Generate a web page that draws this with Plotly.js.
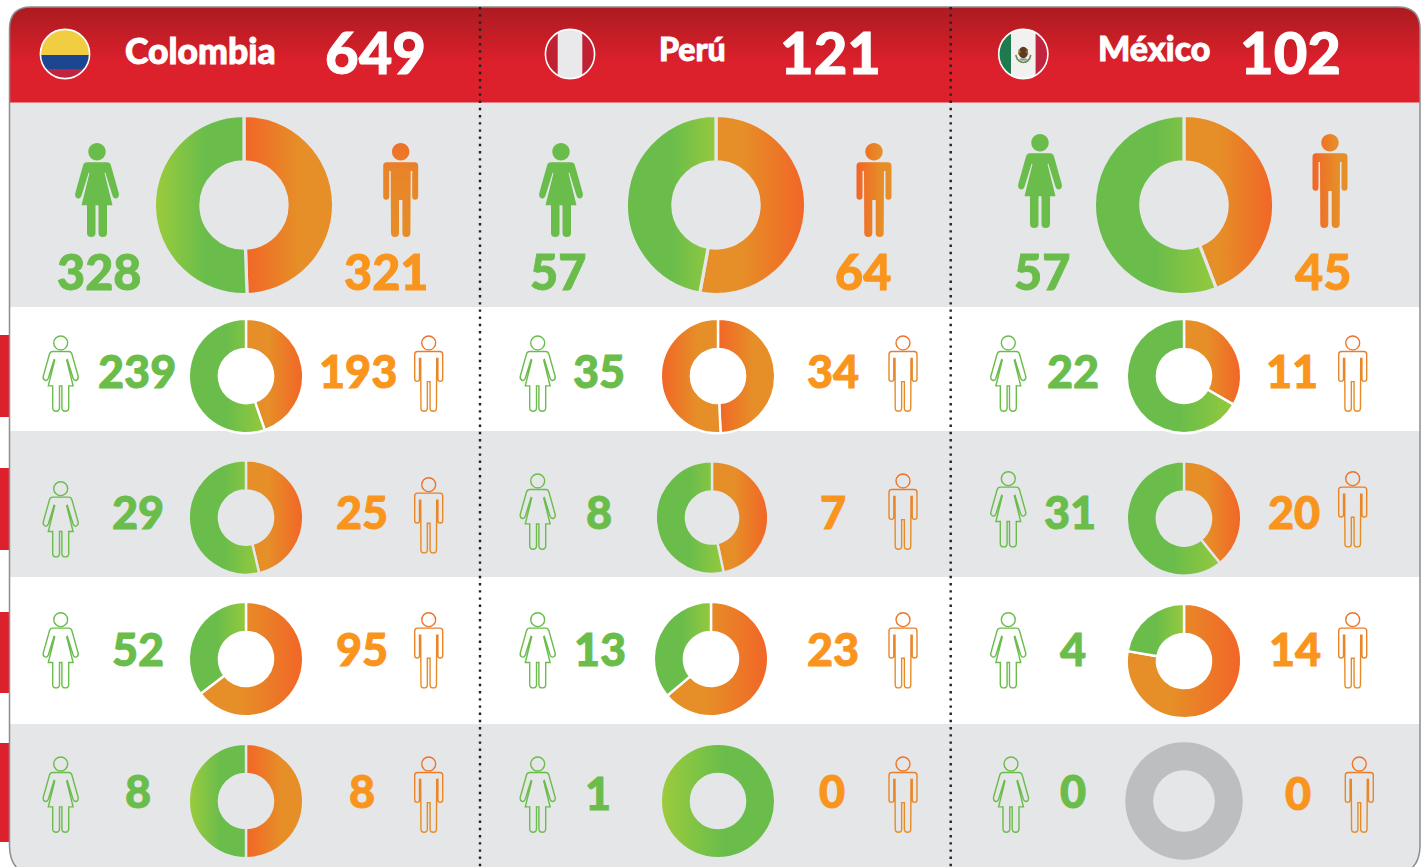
<!DOCTYPE html>
<html>
<head>
<meta charset="utf-8">
<script src="https://cdn.plot.ly/plotly-3.0.1.min.js"></script>
<style>html,body{margin:0;padding:0;background:#fff;overflow:hidden}#chart{width:1423px;height:867px}</style>
</head>
<body>
<div id="chart"></div>
<script>
// ---------- data ----------
const countries = ['Colombia', 'Perú', 'México'];
const totals = [649, 121, 102];
const womenColombia = [328, 239, 29, 52, 8];
const menColombia   = [321, 193, 25, 95, 8];
const womenPeru     = [57, 35, 8, 13, 1];
const menPeru       = [64, 34, 7, 23, 0];
const womenMexico   = [57, 22, 31, 4, 0];
const menMexico     = [45, 11, 20, 14, 0];
const sliceLabels = ['Hombres', 'Mujeres'];

// ---------- layout helpers ----------
const W = 1423, H = 867;
const GREEN = '#6abd4b', ORANGE = '#f9951d', BAND = '#e5e6e8';
const FONT = 'Lato, "Open Sans", sans-serif';
const px = x => x / W, py = y => 1 - y / H;
const toPaper = p => p.replace(/(-?[\d.]+),(-?[\d.]+)/g, (m, x, y) => px(+x) + ',' + py(+y));

const women = [womenColombia, womenPeru, womenMexico];
const men = [menColombia, menPeru, menMexico];
const rowBg = [BAND, '#ffffff', BAND, '#ffffff', BAND];

// donut geometry per [country][row]: cx, cy, outer radius, inner radius
const donutGeom = [
  [[244,205,88,44.7],[246,376,56,28.3],[246,517.5,56,28.3],[246,659,56,28.3],[246,801,56,28.3]],
  [[716,205,88,44.7],[718,376,56,28.3],[712,517.5,55,27.3],[711,659,56,28.3],[718,801,56,28.3]],
  [[1184,205,88,44.7],[1184,376,56,28.3],[1184,518.5,56,28.3],[1184,661,56,28.3],[1184,801,58.7,30.8]]
];
// gradient name for [male slice, female slice]
const donutGrad = [
  [['orangeL','greenL'],['orangeR','greenR'],['orangeR','greenR'],['orangeR','greenR'],['orangeL','greenL']],
  [['orangeR','greenR'],['orangeL','orangeL'],['orangeR','greenR'],['orangeR','greenR'],['orangeR','greenL']],
  [['orangeR','greenR'],['orangeR','greenR'],['orangeR','greenR'],['orangeR','greenR'],[null,null]]
];
// number label centres [x,y]
const womenNumPos = [
  [[99,270.5],[137,371],[137.5,511.5],[138,648.5],[137.7,790.5]],
  [[558,270.5],[599,371],[599,511.5],[600,648.5],[597.5,792.5]],
  [[1042,270.5],[1073,371],[1070,511.5],[1073,648.5],[1072.5,790.5]]
];
const menNumPos = [
  [[386,270.5],[357.5,371],[361.5,511.5],[362,648.5],[361.7,790.5]],
  [[863,270.5],[832.5,371],[833,511.5],[832.5,648.5],[832,790.5]],
  [[1323,270.5],[1292,371],[1294,511.5],[1295,648.5],[1298,793]]
];
// icon anchors [cx, top]
const womenIcon = [
  [[97,143],[60.7,336],[60.7,481.7],[60.7,612.7],[60.7,757]],
  [[561,143],[537.7,336],[537.7,474],[537.7,612.7],[537.7,757]],
  [[1040,134],[1008.3,336],[1008.3,471.7],[1008.3,612.7],[1011,757]]
];
const menIcon = [
  [[400.7,143],[428.7,336],[428.7,477.7],[428.7,612.7],[428.7,757]],
  [[874,143],[903,336],[903,474],[903,612.7],[903,757]],
  [[1330,134],[1352.7,336],[1352.7,471.7],[1352.7,612.7],[1359.3,757]]
];
const headerNameX = [200, 692, 1154.5], headerNameY = [50.5, 48.5, 47.5], headerNameSize = [35.5, 32, 34];
const headerTotalX = [375, 830, 1290];
const flagX = [65, 570, 1023.3];
const tabs = [[335,417],[468,550],[612,693],[743,842]];

// ---------- pies ----------
const traces = [];
countries.forEach((c, ci) => {
  women[ci].forEach((w, ri) => {
    const m = men[ci][ri];
    const [cx, cy, r, ri2] = donutGeom[ci][ri];
    const empty = (m + w) === 0;
    const lw = empty ? 0 : (ri === 0 ? 3.2 : 2.4);
    const R = r + lw / 2, hole = (ri2 - lw / 2) / R;
    traces.push({
      type: 'pie', sort: false, direction: 'clockwise', rotation: 0,
      labels: empty ? ['Sin datos'] : sliceLabels,
      values: empty ? [1] : [m, w],
      hole: hole, textinfo: 'none', hoverinfo: 'none',
      domain: {x: [px(cx - R), px(cx + R)], y: [py(cy + R), py(cy - R)]},
      marker: {colors: empty ? ['#bcbec0'] : ['#e68e27', GREEN], line: {color: rowBg[ri], width: lw}}
    });
  });
});

// ---------- shapes ----------
const shapes = [], shapeGrad = {};
function add(s, grad, strokeGrad) {
  const i = shapes.push(Object.assign({xref: 'paper', yref: 'paper', layer: 'below'}, s)) - 1;
  if (grad) shapeGrad[i] = Object.assign(shapeGrad[i] || {}, {fill: grad});
  if (strokeGrad) shapeGrad[i] = Object.assign(shapeGrad[i] || {}, {stroke: strokeGrad});
}
function rect(x0, y0, x1, y1, color) {
  add({type: 'rect', x0: px(x0), x1: px(x1), y0: py(y0), y1: py(y1), fillcolor: color, line: {width: 0}});
}
const HEAD = 'M0,0 C4.8,0 8.7,3.9 8.7,8.7 C8.7,13.5 4.8,17.4 0,17.4 C-4.8,17.4 -8.7,13.5 -8.7,8.7 C-8.7,3.9 -4.8,0 0,0 Z ';
const WOMAN = HEAD + 'M-10,19.3 L10,19.3 Q13,19.3 14,22.5 L21.7,50 Q22.7,54 19.7,55.3 Q16.8,56.3 15.5,52.8 L8.3,29.5 L7.5,30 L15.5,62.3 L10,62.3 L10,89.7 Q10,94 5.8,94 Q1.5,94 1.5,89.7 L1.5,62.3 L-1.5,62.3 L-1.5,89.7 Q-1.5,94 -5.8,94 Q-10,94 -10,89.7 L-10,62.3 L-15.5,62.3 L-7.5,30 L-8.3,29.5 L-15.5,52.8 Q-16.8,56.3 -19.7,55.3 Q-22.7,54 -21.7,50 L-14,22.5 Q-13,19.3 -10,19.3 Z';
const MAN = HEAD + 'M-14,19.3 L14,19.3 Q17.5,19.3 17.5,23 L17.5,53.5 Q17.5,56.7 14.4,56.7 Q11.5,56.7 11.5,53.5 L11.5,28 L10,28 L9.7,90 Q9.7,94 5.7,94 Q1.7,94 1.7,90 L1.7,57 L-1.7,57 L-1.7,90 Q-1.7,94 -5.7,94 Q-9.7,94 -9.7,90 L-10,28 L-11.5,28 L-11.5,53.5 Q-11.5,56.7 -14.4,56.7 Q-17.5,56.7 -17.5,53.5 L-17.5,23 Q-17.5,19.3 -14,19.3 Z';
function icon(tpl, cx, top, k) {
  return toPaper(tpl.replace(/(-?[\d.]+),(-?[\d.]+)/g, (m, x, y) => (cx + x * k).toFixed(2) + ',' + (top + y * k).toFixed(2)));
}

// panel bands
add({type: 'path', path: toPaper('M9.5,103 L9.5,29 Q9.5,7 31,7 L1398,7 Q1420,7 1420,29 L1420,103 Z'), fillcolor: '#dc202c', line: {width: 0}}, 'header');
rect(9.5, 103, 1420, 307, BAND);
rect(9.5, 431, 1420, 577, BAND);
add({type: 'path', path: toPaper('M9.5,724 L1420,724 L1420,846 Q1420,867 1410,867 L20,867 Q9.5,867 9.5,846 Z'), fillcolor: BAND, line: {width: 0}});
rect(9.5, 102, 1420, 103, '#ea7f88');
tabs.forEach(t => rect(0, t[0], 9, t[1], '#dc202c'));
// panel border
add({type: 'path', path: toPaper('M17,868 Q9.5,860 9.5,846 L9.5,29 Q9.5,7 31,7 L1398,7 Q1420,7 1420,29 L1420,846 Q1420,860 1412,868'), fillcolor: 'rgba(0,0,0,0)', line: {color: '#8b8d90', width: 1.5}, layer: 'above'});
// dotted separators
[480, 950.7].forEach(x => add({type: 'line', x0: px(x), x1: px(x), y0: py(7), y1: py(867), line: {color: '#222222', width: 2.4, dash: '2.4px,4.8px'}, layer: 'above'}));

// person icons
countries.forEach((c, ci) => {
  women[ci].forEach((w, ri) => {
    const wi = womenIcon[ci][ri], mi = menIcon[ci][ri];
    if (ri === 0) {
      add({type: 'path', path: icon(WOMAN, wi[0], wi[1], 1), fillcolor: GREEN, line: {width: 0}, layer: 'above'});
      add({type: 'path', path: icon(MAN, mi[0], mi[1], 1), fillcolor: '#e68e27', line: {width: 0}, layer: 'above'}, ci === 0 ? 'manV' : 'manH');
    } else {
      add({type: 'path', path: icon(WOMAN, wi[0], wi[1], 0.8), fillcolor: 'rgba(0,0,0,0)', line: {color: GREEN, width: 1.4}, layer: 'above'});
      add({type: 'path', path: icon(MAN, mi[0], mi[1], 0.8), fillcolor: 'rgba(0,0,0,0)', line: {color: '#ec8431', width: 1.4}, layer: 'above'}, null, 'manV');
    }
  });
});

// ---------- flags (inline svg images) ----------
function flagSvg(inner) {
  return 'data:image/svg+xml;utf8,' + encodeURIComponent(
    '<svg xmlns="http://www.w3.org/2000/svg" width="104" height="104" viewBox="0 0 52 52"><defs><clipPath id="c"><circle cx="26" cy="26" r="24.5"/></clipPath></defs><g clip-path="url(#c)">' + inner +
    '</g><circle cx="26" cy="26" r="24.6" fill="none" stroke="#fff" stroke-width="1.6"/></svg>');
}
const flagArt = [
  '<rect width="52" height="27" fill="#f0cd41"/><rect y="27" width="52" height="14" fill="#1d4690"/><rect y="41" width="52" height="11" fill="#c0243f"/>',
  '<rect width="52" height="52" fill="#bf2033"/><rect x="13.7" width="24.6" height="52" fill="#e9e9eb"/>',
  '<rect width="52" height="52" fill="#f1f1ef"/><rect width="13.7" height="52" fill="#1f7a50"/><rect x="38.3" width="13.7" height="52" fill="#c0243f"/>' +
  '<path d="M18.5 27 Q20 34 26 34.5 Q32 34 33.5 27" fill="none" stroke="#6f8a4a" stroke-width="1.6"/>' +
  '<ellipse cx="26" cy="24.5" rx="4.6" ry="5.8" fill="#5c3a1e"/><path d="M21.5 21 L24 24 L20.5 27 Z M30.5 20.5 L28 24 L31 27 Z" fill="#9a6a34"/><ellipse cx="26" cy="31.5" rx="4" ry="1.2" fill="#7fa0a8"/>'
];
const images = flagArt.map((art, i) => ({
  source: flagSvg(art), xref: 'paper', yref: 'paper', x: px(flagX[i] - 26), y: py(54 - 26),
  sizex: 52 / W, sizey: 52 / H, xanchor: 'left', yanchor: 'top', sizing: 'stretch', layer: 'above'
}));

// ---------- text ----------
const annotations = [];
function label(text, x, y, size, color) {
  annotations.push({text: String(text), xref: 'paper', yref: 'paper', x: px(x), y: py(y), xanchor: 'center', yanchor: 'middle',
    showarrow: false, borderpad: 0, font: {family: FONT, size: size, color: color, weight: 900}});
}
countries.forEach((c, ci) => {
  label(c, headerNameX[ci], headerNameY[ci], headerNameSize[ci], '#ffffff');
  label(totals[ci], headerTotalX[ci], 51.5, 58, '#ffffff');
  women[ci].forEach((w, ri) => {
    const size = ri === 0 ? 48.5 : 45;
    label(w, womenNumPos[ci][ri][0], womenNumPos[ci][ri][1], size, GREEN);
    label(men[ci][ri], menNumPos[ci][ri][0], menNumPos[ci][ri][1], size, ORANGE);
  });
});

// ---------- gradients applied to the library's own marks ----------
const gradients = {
  header: {v: 1, stops: [[0,'#ab1b20'],[0.58,'#dc202c'],[1,'#dc202c']]},
  orangeL: {stops: [[0,'#f26527'],[0.6,'#e68e27'],[1,'#e68e27']]},
  orangeR: {stops: [[0,'#e68e27'],[0.4,'#e68e27'],[1,'#f26527']]},
  greenL: {stops: [[0,'#9ccc3c'],[0.55,'#6abd4b'],[1,'#6abd4b']]},
  greenR: {stops: [[0,'#6abd4b'],[0.5,'#6abd4b'],[1,'#95c93d']]},
  manV: {v: 1, stops: [[0,'#ee6f2a'],[0.3,'#e98429'],[1,'#e68e27']]},
  manH: {stops: [[0,'#f26527'],[0.7,'#e68e27'],[1,'#e68e27']]}
};
function applyGradients(gd) {
  const NS = 'http://www.w3.org/2000/svg';
  const svg = gd.querySelector('.main-svg');
  let defs = svg.querySelector('defs');
  Object.keys(gradients).forEach(id => {
    const g = document.createElementNS(NS, 'linearGradient');
    g.setAttribute('id', 'grad-' + id);
    g.setAttribute('x1', 0); g.setAttribute('y1', 0);
    g.setAttribute('x2', gradients[id].v ? 0 : 1); g.setAttribute('y2', gradients[id].v ? 1 : 0);
    gradients[id].stops.forEach(s => {
      const st = document.createElementNS(NS, 'stop');
      st.setAttribute('offset', s[0]); st.setAttribute('stop-color', s[1]);
      g.appendChild(st);
    });
    defs.appendChild(g);
  });
  gd.querySelectorAll('.shapelayer path[data-index]').forEach(el => {
    const g = shapeGrad[el.getAttribute('data-index')];
    if (!g) return;
    if (g.fill) el.style.fill = 'url(#grad-' + g.fill + ')';
    if (g.stroke) el.style.stroke = 'url(#grad-' + g.stroke + ')';
  });
  const flat = [];
  donutGrad.forEach(c => c.forEach(r => flat.push(r)));
  gd.querySelectorAll('.pielayer .trace').forEach((tr, ti) => {
    tr.querySelectorAll('.slice').forEach(sl => {
      const i = sl.__data__.i, name = flat[ti][i];
      const path = sl.querySelector('path.surface');
      if (name && path) path.style.fill = 'url(#grad-' + name + ')';
    });
  });
  // heavier digits: the original face is bolder than the installed bold
  gd.querySelectorAll('.annotation-text').forEach(t => {
    t.style.stroke = t.style.fill;
    t.style.strokeWidth = '0.9px';
  });
}

Plotly.newPlot('chart', traces, {
  width: W, height: H, margin: {l: 0, r: 0, t: 0, b: 0, pad: 0},
  paper_bgcolor: '#ffffff', plot_bgcolor: 'rgba(0,0,0,0)', showlegend: false,
  shapes: shapes, annotations: annotations, images: images
}, {displayModeBar: false, staticPlot: true}).then(applyGradients);
</script>
</body>
</html>
